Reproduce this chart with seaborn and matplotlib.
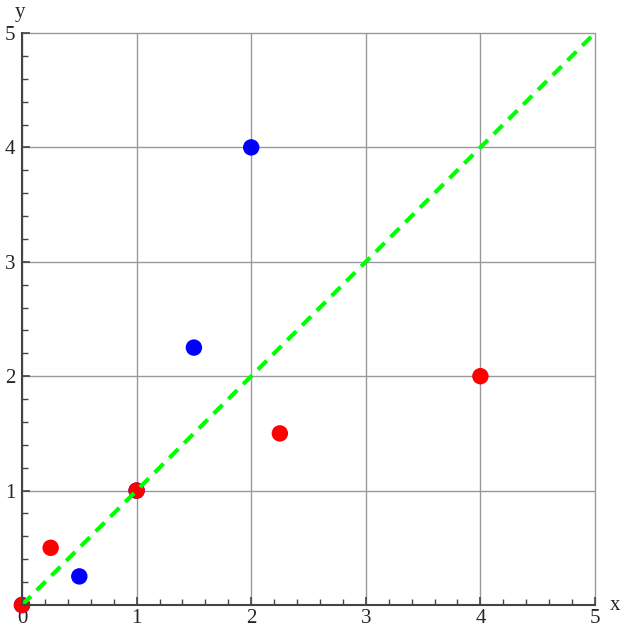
import numpy as np
import pandas as pd
import matplotlib
matplotlib.use("Agg")
import matplotlib.pyplot as plt
import seaborn as sns
from matplotlib.ticker import MultipleLocator

# puntos de y = x^2 (azul) y y = sqrt(x) (rojo)
x_blue = [0, 0.5, 1, 1.5, 2]
y_blue = [0, 0.25, 1, 2.25, 4]
x_red = [0, 0.25, 1, 2.25, 4]
y_red = [0, 0.5, 1, 1.5, 2]
line_x = [0, 5]
line_y = [0, 5]
ticks = [1, 2, 3, 4, 5]

sns.set_style("white")
plt.rcParams['font.family'] = ['Liberation Serif', 'DejaVu Serif']

fig = plt.figure(figsize=(6.21, 6.27), dpi=100)
ax = fig.add_axes([22 / 621, 22 / 627, 573 / 621, 572 / 627])

df_b = pd.DataFrame({'x': x_blue, 'y': y_blue})
df_r = pd.DataFrame({'x': x_red, 'y': y_red})
df_l = pd.DataFrame({'x': line_x, 'y': line_y})

sns.scatterplot(data=df_b, x='x', y='y', ax=ax, color=(0, 0, 1), s=140,
                edgecolor='none', zorder=3, clip_on=False)
sns.scatterplot(data=df_r, x='x', y='y', ax=ax, color=(1, 0, 0), s=140,
                edgecolor='none', zorder=4, clip_on=False)
sns.lineplot(data=df_l, x='x', y='y', ax=ax, color=(0, 1, 0), linewidth=3,
             linestyle=(0, (3, 2)), zorder=5, clip_on=False)

ax.set_xlim(0, 5)
ax.set_ylim(0, 5)
ax.set_xticks([0] + ticks)
ax.set_xticklabels(['0'] + [str(t) for t in ticks])
ax.set_yticks(ticks)
ax.set_yticklabels([str(t) for t in ticks])
ax.xaxis.set_minor_locator(MultipleLocator(0.2))
ax.yaxis.set_minor_locator(MultipleLocator(0.2))
ax.tick_params(which='both', bottom=True, left=True, top=False, right=False)
ax.tick_params(which='major', direction='in', length=6, width=1.2,
               color='#444444', labelsize=15, pad=3)
ax.tick_params(which='minor', direction='in', length=4, width=1,
               color='#444444')
ax.tick_params(axis='y', pad=5)

ax.grid(True, which='major', color='#999999', linewidth=1)
for gl in ax.get_xgridlines() + ax.get_ygridlines():
    gl.set_clip_on(False)
ax.set_axisbelow(True)

for side in ['top', 'right']:
    ax.spines[side].set_visible(False)
for side in ['left', 'bottom']:
    ax.spines[side].set_color('#444444')
    ax.spines[side].set_linewidth(1.5)
    ax.spines[side].set_zorder(6)

ax.set_xlabel('')
ax.set_ylabel('')
fig.text(615 / 621, 1 - 605 / 627, 'x', ha='center', va='center', fontsize=15)
fig.text(20 / 621, 1 - 13 / 627, 'y', ha='center', va='center', fontsize=15)

fig.savefig('out.png', dpi=100)
